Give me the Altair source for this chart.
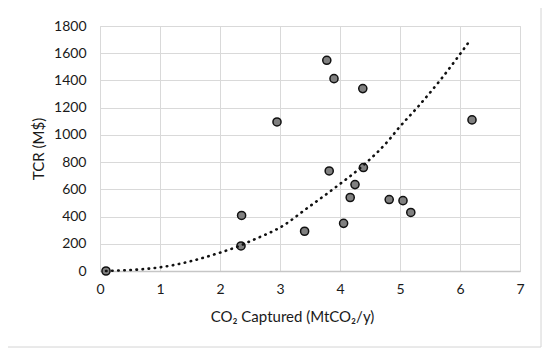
import altair as alt
import pandas as pd

# Scatter data
co2_captured = [0.10, 2.35, 2.36, 2.95, 3.41, 3.78, 3.82, 3.90, 4.06, 4.17, 4.25, 4.38, 4.39, 4.82, 5.05, 5.18, 6.20]
tcr = [0, 184, 408, 1095, 292, 1548, 735, 1413, 350, 540, 635, 1340, 760, 525, 517, 430, 1110]

# Trendline
trend_x = [0.10, 1.00, 2.00, 2.35, 2.50, 3.08, 3.42, 3.92, 4.39, 4.81, 4.97, 5.32, 5.69, 6.16]
trend_y = [0, 27, 135, 189, 218, 341, 451, 613, 777, 960, 1046, 1217, 1413, 1690]

x_ticks = [0, 1, 2, 3, 4, 5, 6, 7]
y_ticks = [0, 200, 400, 600, 800, 1000, 1200, 1400, 1600, 1800]

pts = pd.DataFrame({"x": co2_captured, "y": tcr})
trend = pd.DataFrame({"x": trend_x, "y": trend_y})
frame = pd.DataFrame({"a": [0]})

FONT = "Lato"

xs = alt.Scale(domain=[0, 7], nice=False, zero=False)
ys = alt.Scale(domain=[0, 1800], nice=False)

x_axis = alt.Axis(values=x_ticks, format="d", labelOverlap=False, labelFlush=False,
                  title="CO₂ Captured (MtCO₂/y)", grid=True,
                  gridColor="#d9d9d9", gridWidth=1, ticks=False, domain=True,
                  domainColor="#c6c6c6", domainWidth=1.5, labelPadding=11,
                  labelFontSize=14, labelFont=FONT, labelColor="#1a1a1a",
                  titleFont=FONT, titleFontSize=15, titleFontWeight="normal",
                  titleColor="#1a1a1a", titlePadding=13, titleX=192, titleAlign="center")
y_axis = alt.Axis(values=y_ticks, format="d", labelOverlap=False, labelFlush=False,
                  title="TCR (M$)", grid=True,
                  gridColor="#d9d9d9", gridWidth=1, ticks=False, domain=False,
                  labelPadding=14, labelFontSize=14, labelFont=FONT,
                  labelColor="#1a1a1a", titleFont=FONT, titleFontSize=15,
                  titleFontWeight="normal", titleColor="#1a1a1a", titlePadding=7)

points = alt.Chart(pts).mark_point(
    shape="circle", filled=True, fill="#808080", stroke="#111111",
    strokeWidth=1.5, size=66, opacity=1
).encode(
    x=alt.X("x:Q", scale=xs, axis=x_axis),
    y=alt.Y("y:Q", scale=ys, axis=y_axis),
)

line = alt.Chart(trend).mark_line(
    color="#111111", strokeWidth=2.6, strokeDash=[0.5, 5.6], strokeCap="round",
    interpolate="monotone"
).encode(x=alt.X("x:Q", scale=xs, axis=x_axis), y=alt.Y("y:Q", scale=ys, axis=y_axis))

border = alt.Chart(frame).mark_rect(
    fill="transparent", stroke="#d4d4d4", strokeWidth=1
).encode(x=alt.value(-93), x2=alt.value(441), y=alt.value(-20), y2=alt.value(321))

chart = alt.layer(border, points, line).properties(
    width=420, height=245,
    autosize=alt.AutoSizeParams(type="none"),
    padding={"left": 92, "top": 18, "right": 22, "bottom": 77},
).configure_view(stroke=None).configure(background="white")

chart.save("out.html", embed_options={"renderer": "svg", "actions": False})
